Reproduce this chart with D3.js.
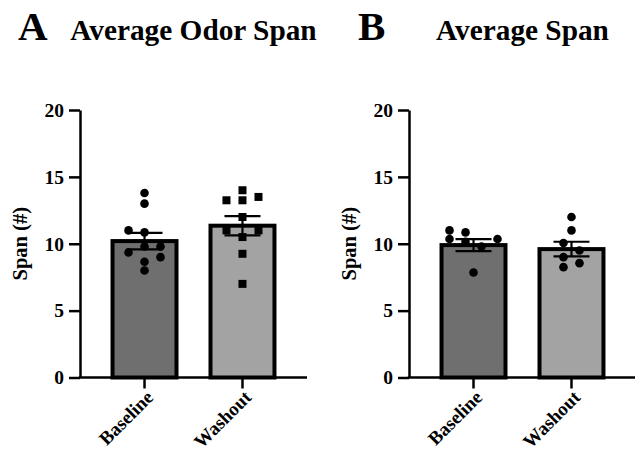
<!DOCTYPE html>
<html>
<head>
<meta charset="utf-8">
<script src="https://cdn.jsdelivr.net/npm/d3@7"></script>
<style>
  body { margin: 0; background: #fff; }
  svg { display: block; }
  text { font-family: "Liberation Serif", "Times New Roman", serif; font-weight: bold; fill: #000; }
</style>
</head>
<body>
<svg id="chart" width="635" height="454"></svg>
<script>
// ---- data ----
const categories = ["Baseline", "Washout"];
const yTicks = [0, 5, 10, 15, 20];

// Panel A: Average Odor Span
const odorBaseline = [13.8, 13.0, 11.0, 10.85, 9.8, 9.8, 9.35, 9.0, 8.65, 8.0];
const odorBaselineSlot = [0, 0, -1, 0, 0, 1, -1, 1, 0, 0];
const odorWashout = [14.0, 13.25, 13.25, 13.5, 12.0, 11.0, 11.0, 10.5, 9.25, 7.0];
const odorWashoutSlot = [0, -1, 0, 1, 0, -1, 1, 0, 0, 0];
const odorMeans = [10.2, 11.35];
const odorSEM = [0.62, 0.72];

// Panel B: Average Span
const spanBaseline = [11.0, 10.35, 10.85, 10.15, 9.8, 10.35, 7.85];
const spanBaselineSlot = [-1.5, -1.5, -0.5, -0.5, 0.5, 1.5, 0];
const spanWashout = [12.0, 11.0, 10.05, 9.5, 9.0, 8.55, 8.25];
const spanWashoutSlot = [0, 0, -0.5, 0.5, -0.5, 0.5, -0.5];
const spanMeans = [9.9, 9.6];
const spanSEM = [0.45, 0.55];

// ---- drawing ----
const svg = d3.select("#chart");
const barFills = ["#6f6f6f", "#a3a3a3"];
const y = d3.scaleLinear().domain([0, 20]).range([377.5, 110]);

function panel(opts) {
  const { x0, letter, letterX, title, means, sem, groups, shapes } = opts;
  const x1 = x0 + 227;
  const x = d3.scaleBand().domain(categories).range([x0, x1])
    .paddingInner(0.347).paddingOuter(0.332);
  const g = svg.append("g");

  // bars
  g.selectAll("rect.bar").data(categories).join("rect")
    .attr("class", "bar")
    .attr("x", d => x(d))
    .attr("width", x.bandwidth())
    .attr("y", (d, i) => y(means[i]))
    .attr("height", (d, i) => y(0) - y(means[i]))
    .attr("fill", (d, i) => barFills[i])
    .attr("stroke", "#000")
    .attr("stroke-width", 4);

  // points
  const slotW = 16;
  groups.forEach((grp, gi) => {
    const cx = x(categories[gi]) + x.bandwidth() / 2;
    const pts = grp.values.map((v, i) => ({ v, s: grp.slots[i] }));
    if (shapes[gi] === "square") {
      g.selectAll(null).data(pts).join("rect")
        .attr("x", d => cx + d.s * slotW - 4)
        .attr("y", d => y(d.v) - 4)
        .attr("width", 8).attr("height", 8)
        .attr("fill", "#000");
    } else {
      g.selectAll(null).data(pts).join("circle")
        .attr("cx", d => cx + d.s * slotW)
        .attr("cy", d => y(d.v))
        .attr("r", 4.3)
        .attr("fill", "#000");
    }
  });

  // error bars
  categories.forEach((c, i) => {
    const cx = x(c) + x.bandwidth() / 2;
    const eg = g.append("g").attr("stroke", "#000").attr("stroke-width", 2.2);
    eg.append("line").attr("x1", cx).attr("x2", cx)
      .attr("y1", y(means[i] - sem[i])).attr("y2", y(means[i] + sem[i]));
    [means[i] - sem[i], means[i] + sem[i]].forEach(v => {
      eg.append("line").attr("x1", cx - 18).attr("x2", cx + 18)
        .attr("y1", y(v)).attr("y2", y(v));
    });
  });

  // y axis
  const ya = g.append("g").attr("transform", `translate(${x0},0)`)
    .call(d3.axisLeft(y).tickValues(yTicks).tickSize(11).tickPadding(5).tickSizeOuter(0));
  ya.select(".domain").attr("stroke", "#000").attr("stroke-width", 2.5);
  ya.selectAll(".tick line").attr("stroke", "#000").attr("stroke-width", 2.5);
  ya.selectAll(".tick text").attr("font-size", 19.5)
    .attr("font-family", "Liberation Serif, Times New Roman, serif")
    .attr("font-weight", "bold").attr("fill", "#000");

  // x axis
  const xa = g.append("g").attr("transform", `translate(0,${y(0)})`)
    .call(d3.axisBottom(x).tickSize(11).tickSizeOuter(0).tickFormat(""));
  xa.select(".domain").attr("stroke", "#000").attr("stroke-width", 2.5)
    .attr("d", `M${x0 - 1.25},0H${x1}`);
  xa.selectAll(".tick line").attr("stroke", "#000").attr("stroke-width", 2.5);
  xa.selectAll(".tick").append("text")
    .attr("text-anchor", "end")
    .attr("font-size", 19)
    .attr("transform", "translate(10,21) rotate(-45)")
    .text(d => d);

  // y label
  g.append("text")
    .attr("transform", `translate(${x0 - 53},${(y(0) + y(20)) / 2}) rotate(-90)`)
    .attr("text-anchor", "middle")
    .attr("font-size", 20.5)
    .text("Span (#)");

  // panel letter and title
  g.append("text").attr("x", letterX).attr("y", 39.5)
    .attr("font-size", 41).text(letter);
  g.append("text").attr("x", (x0 + x1) / 2).attr("y", 40)
    .attr("text-anchor", "middle").attr("font-size", 29.3).text(title);
}

panel({
  x0: 80, letter: "A", letterX: 18, title: "Average Odor Span",
  means: odorMeans, sem: odorSEM,
  groups: [{ values: odorBaseline, slots: odorBaselineSlot }, { values: odorWashout, slots: odorWashoutSlot }],
  shapes: ["circle", "square"]
});
panel({
  x0: 409, letter: "B", letterX: 358, title: "Average Span",
  means: spanMeans, sem: spanSEM,
  groups: [{ values: spanBaseline, slots: spanBaselineSlot }, { values: spanWashout, slots: spanWashoutSlot }],
  shapes: ["circle", "circle"]
});
</script>
</body>
</html>
